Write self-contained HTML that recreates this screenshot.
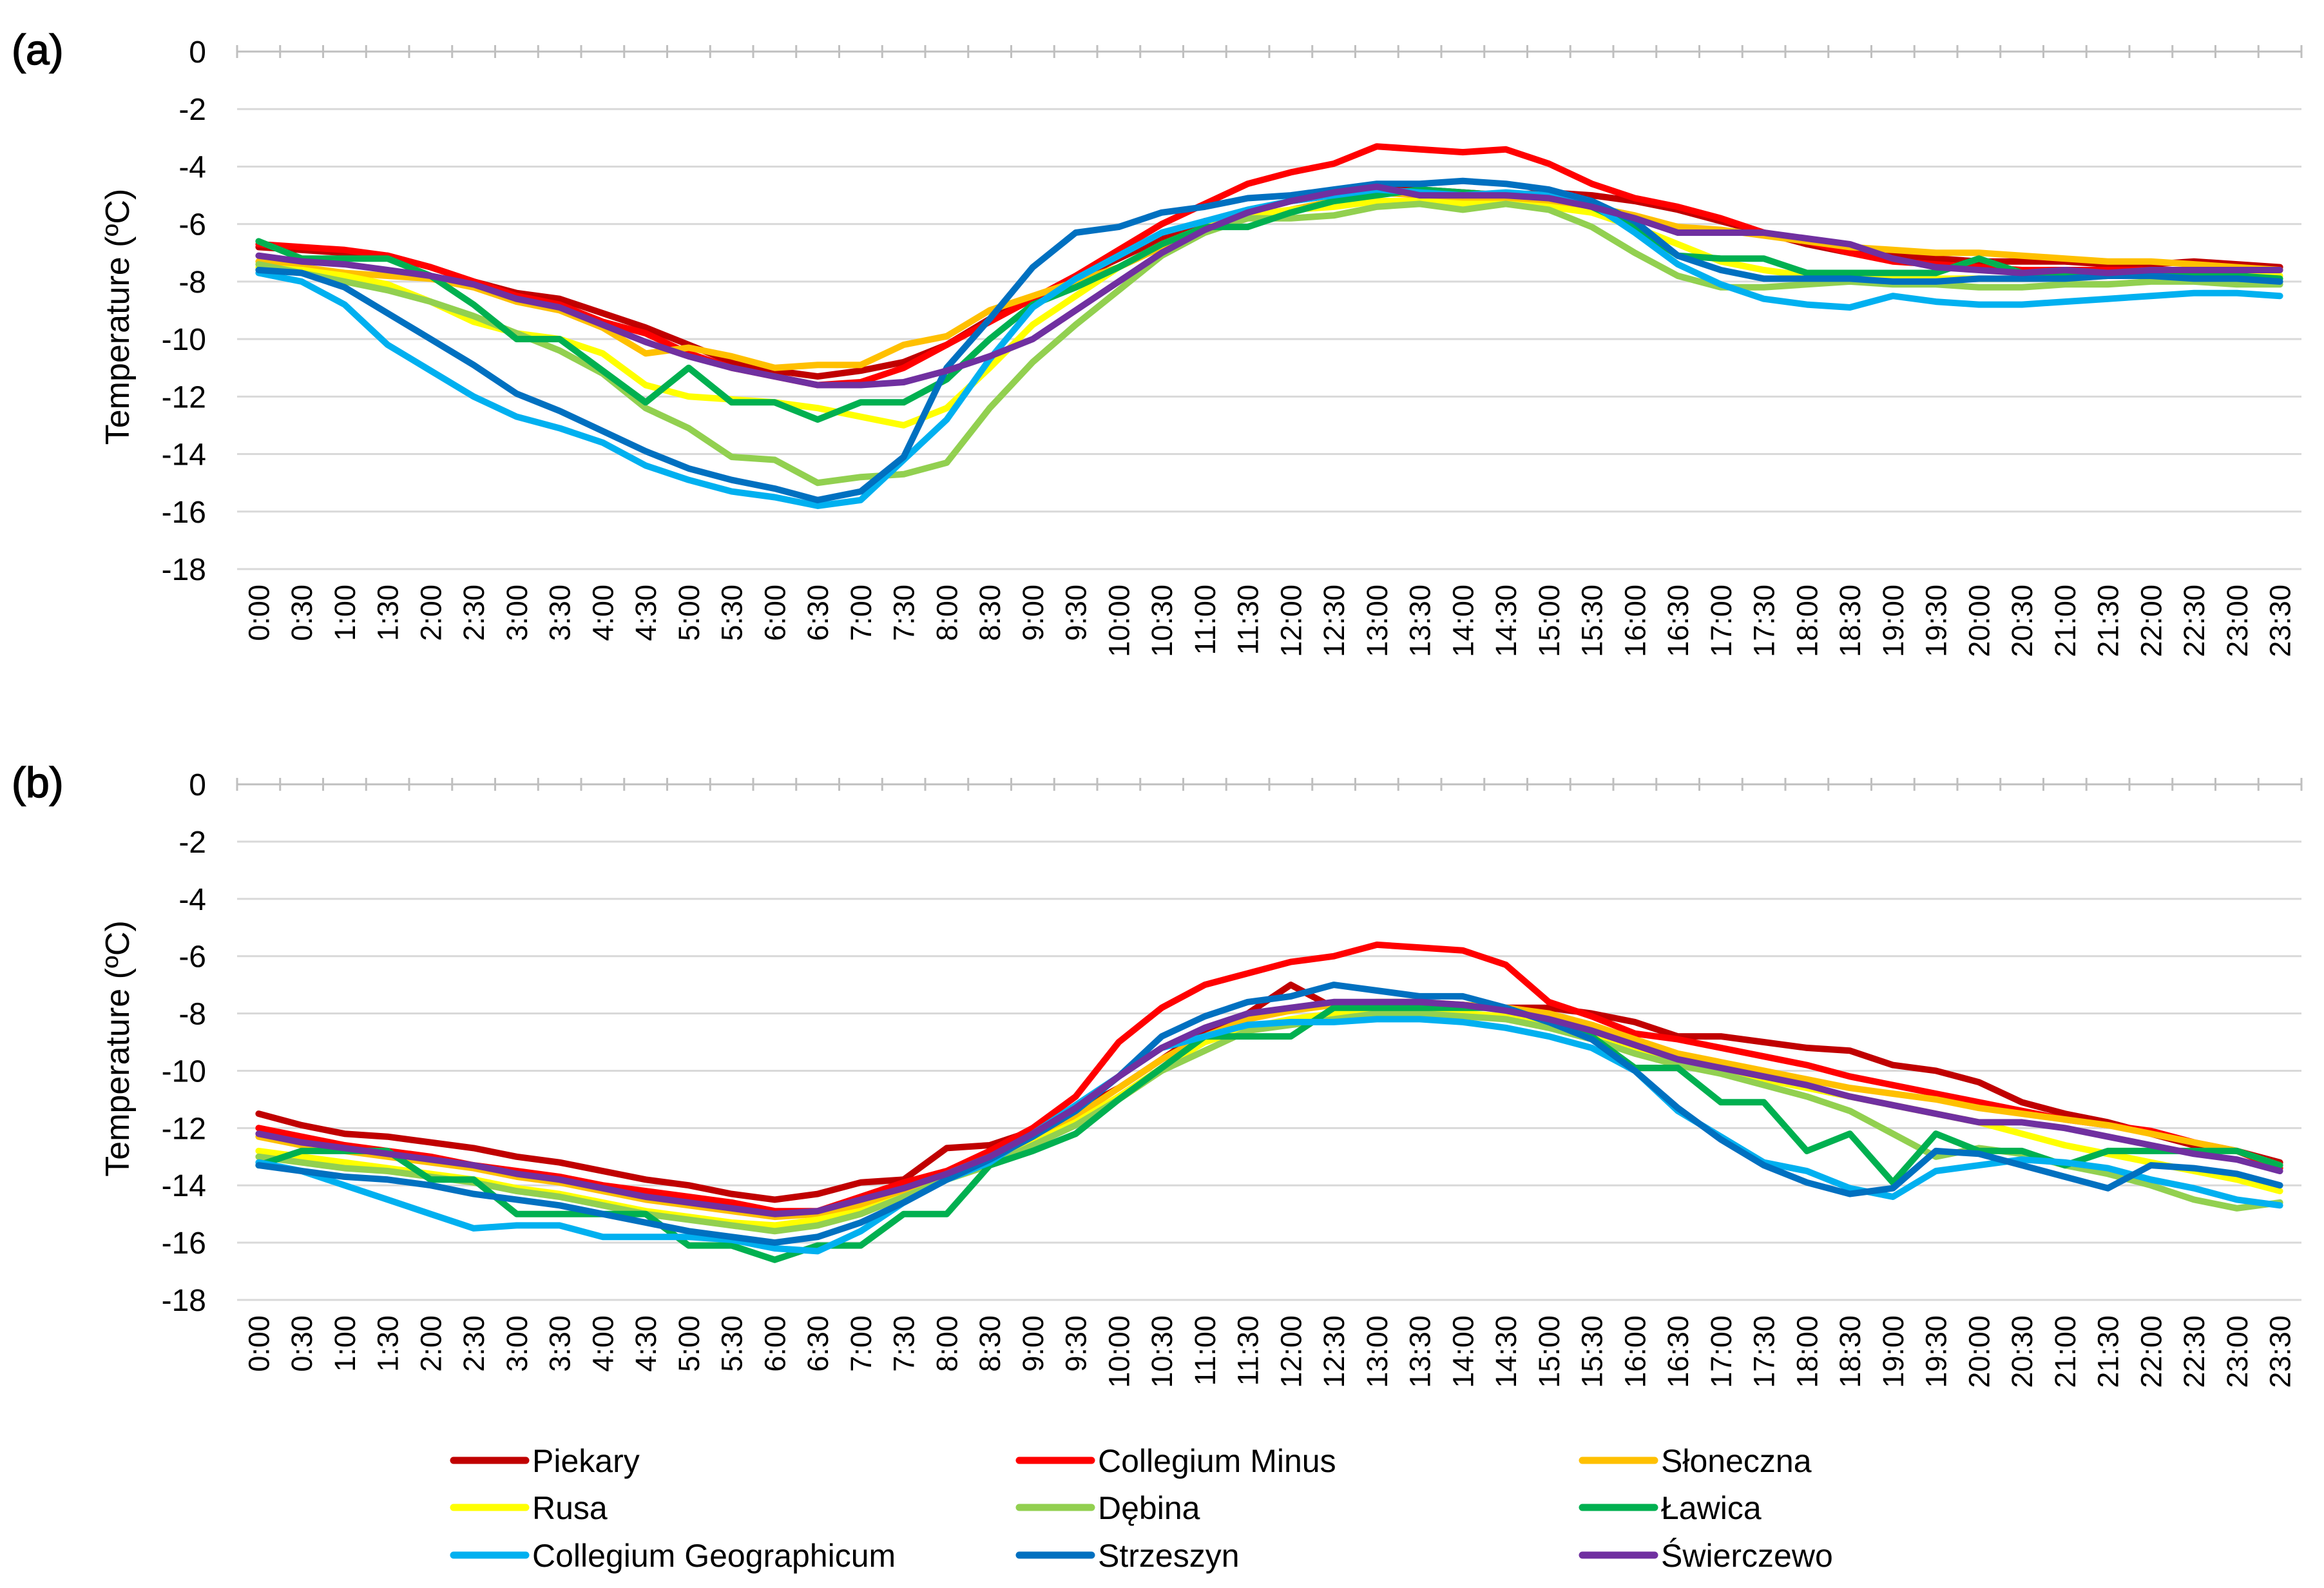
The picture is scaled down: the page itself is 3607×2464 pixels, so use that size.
<!DOCTYPE html>
<html><head><meta charset="utf-8"><style>
html,body{margin:0;padding:0;background:#fff;}
svg{display:block;font-family:"Liberation Sans",Arial,sans-serif;}
</style></head><body>
<svg id="chart" width="3607" height="2464" viewBox="0 0 3607 2464" xmlns="http://www.w3.org/2000/svg">
<rect width="3607" height="2464" fill="#fff"/>
</svg>
<script>
const categories = ["0:00","0:30","1:00","1:30","2:00","2:30","3:00","3:30","4:00","4:30","5:00","5:30","6:00","6:30","7:00","7:30","8:00","8:30","9:00","9:30","10:00","10:30","11:00","11:30","12:00","12:30","13:00","13:30","14:00","14:30","15:00","15:30","16:00","16:30","17:00","17:30","18:00","18:30","19:00","19:30","20:00","20:30","21:00","21:30","22:00","22:30","23:00","23:30"];
const yTicks = [0,-2,-4,-6,-8,-10,-12,-14,-16,-18];
const seriesNames = ["Piekary","Collegium Minus","Słoneczna","Rusa","Dębina","Ławica","Collegium Geographicum","Strzeszyn","Świerczewo"];
const seriesColors = ["#C00000","#FF0000","#FFC000","#FFFF00","#92D050","#00B050","#00B0F0","#0070C0","#7030A0"];

const aPiekary = [-6.8,-6.9,-7,-7.1,-7.5,-8,-8.4,-8.6,-9.1,-9.6,-10.2,-10.8,-11.1,-11.3,-11.1,-10.8,-10.2,-9.3,-8.6,-7.9,-7.2,-6.5,-5.9,-5.6,-5.2,-5,-4.8,-4.8,-4.9,-5,-4.9,-5,-5.2,-5.5,-5.9,-6.3,-6.7,-7,-7.1,-7.2,-7.3,-7.3,-7.3,-7.4,-7.4,-7.3,-7.4,-7.5];
const aMinus = [-6.7,-6.8,-6.9,-7.1,-7.5,-8,-8.5,-8.8,-9.4,-9.8,-10.5,-11,-11.3,-11.6,-11.5,-11,-10.2,-9.4,-8.6,-7.8,-6.9,-6,-5.3,-4.6,-4.2,-3.9,-3.3,-3.4,-3.5,-3.4,-3.9,-4.6,-5.1,-5.4,-5.8,-6.3,-6.6,-7,-7.3,-7.4,-7.5,-7.6,-7.6,-7.6,-7.6,-7.6,-7.6,-7.6];
const aSloneczna = [-7.3,-7.5,-7.7,-7.8,-7.9,-8.2,-8.7,-9,-9.6,-10.5,-10.3,-10.6,-11,-10.9,-10.9,-10.2,-9.9,-9,-8.5,-8,-7.5,-6.8,-6.2,-5.8,-5.5,-5.2,-4.9,-5,-5.1,-5.1,-5.2,-5.4,-5.7,-6.1,-6.2,-6.4,-6.6,-6.8,-6.9,-7,-7,-7.1,-7.2,-7.3,-7.3,-7.4,-7.5,-7.6];
const aRusa = [-7.5,-7.6,-7.8,-8.1,-8.7,-9.4,-9.8,-10,-10.5,-11.6,-12,-12.1,-12.2,-12.4,-12.7,-13,-12.4,-11,-9.5,-8.5,-7.5,-6.7,-6.1,-5.7,-5.5,-5.4,-5.2,-5.2,-5.3,-5.3,-5.4,-5.6,-6.1,-6.7,-7.3,-7.6,-7.8,-7.8,-7.9,-7.9,-7.9,-7.9,-7.9,-7.8,-7.8,-7.7,-7.8,-7.8];
const aDebina = [-7.4,-7.7,-8,-8.3,-8.7,-9.2,-9.8,-10.4,-11.2,-12.4,-13.1,-14.1,-14.2,-15,-14.8,-14.7,-14.3,-12.4,-10.8,-9.5,-8.3,-7.1,-6.3,-5.8,-5.8,-5.7,-5.4,-5.3,-5.5,-5.3,-5.5,-6.1,-7,-7.8,-8.2,-8.2,-8.1,-8,-8.1,-8.1,-8.2,-8.2,-8.1,-8.1,-8,-8,-8.1,-8.1];
const aLawica = [-6.6,-7.2,-7.2,-7.2,-7.8,-8.8,-10,-10,-11.1,-12.2,-11,-12.2,-12.2,-12.8,-12.2,-12.2,-11.4,-10,-8.8,-8.2,-7.5,-6.7,-6.1,-6.1,-5.6,-5.2,-5,-4.8,-4.9,-5,-5,-5.4,-6.1,-7.1,-7.2,-7.2,-7.7,-7.7,-7.7,-7.7,-7.2,-7.7,-7.8,-7.7,-7.8,-7.7,-7.8,-7.9];
const aGeo = [-7.7,-8,-8.8,-10.2,-11.1,-12,-12.7,-13.1,-13.6,-14.4,-14.9,-15.3,-15.5,-15.8,-15.6,-14.2,-12.8,-10.7,-8.9,-7.9,-7.1,-6.3,-5.9,-5.5,-5.2,-5,-4.8,-4.9,-5,-4.9,-5,-5.3,-6.3,-7.4,-8.1,-8.6,-8.8,-8.9,-8.5,-8.7,-8.8,-8.8,-8.7,-8.6,-8.5,-8.4,-8.4,-8.5];
const aStrzeszyn = [-7.6,-7.7,-8.2,-9.1,-10,-10.9,-11.9,-12.5,-13.2,-13.9,-14.5,-14.9,-15.2,-15.6,-15.3,-14.1,-11,-9.3,-7.5,-6.3,-6.1,-5.6,-5.4,-5.1,-5,-4.8,-4.6,-4.6,-4.5,-4.6,-4.8,-5.2,-5.9,-7.1,-7.6,-7.9,-7.9,-7.9,-8,-8,-7.9,-7.9,-7.9,-7.8,-7.8,-7.9,-7.9,-8];
const aSwierczewo = [-7.1,-7.3,-7.4,-7.6,-7.8,-8.1,-8.6,-8.9,-9.5,-10.1,-10.6,-11,-11.3,-11.6,-11.6,-11.5,-11.1,-10.6,-10,-9,-8,-7,-6.2,-5.6,-5.2,-4.9,-4.7,-5,-5,-5,-5.1,-5.4,-5.8,-6.3,-6.3,-6.3,-6.5,-6.7,-7.2,-7.5,-7.6,-7.7,-7.6,-7.7,-7.6,-7.6,-7.6,-7.6];

const bPiekary = [-11.5,-11.9,-12.2,-12.3,-12.5,-12.7,-13,-13.2,-13.5,-13.8,-14,-14.3,-14.5,-14.3,-13.9,-13.8,-12.7,-12.6,-12.1,-11.4,-10.6,-9.6,-8.6,-8,-7,-7.8,-7.8,-7.7,-7.7,-7.8,-7.8,-8,-8.3,-8.8,-8.8,-9,-9.2,-9.3,-9.8,-10,-10.4,-11.1,-11.5,-11.8,-12.2,-12.6,-12.8,-13.2];
const bMinus = [-12,-12.3,-12.6,-12.8,-13,-13.3,-13.5,-13.7,-14,-14.2,-14.4,-14.6,-14.9,-14.9,-14.4,-13.9,-13.5,-12.8,-12,-10.9,-9,-7.8,-7,-6.6,-6.2,-6,-5.6,-5.7,-5.8,-6.3,-7.6,-8.1,-8.7,-8.9,-9.2,-9.5,-9.8,-10.2,-10.5,-10.8,-11.1,-11.4,-11.7,-11.9,-12.1,-12.5,-12.8,-13.4];
const bSloneczna = [-12.3,-12.6,-12.8,-13,-13.2,-13.4,-13.7,-13.9,-14.2,-14.5,-14.7,-14.9,-15.1,-15,-14.7,-14.2,-13.6,-13,-12.3,-11.6,-10.6,-9.6,-8.8,-8.2,-7.9,-7.7,-7.6,-7.6,-7.7,-7.8,-8,-8.4,-8.9,-9.4,-9.7,-10,-10.3,-10.6,-10.8,-11,-11.3,-11.5,-11.7,-11.9,-12.2,-12.5,-12.8,-13.3];
const bRusa = [-12.8,-13,-13.2,-13.4,-13.6,-13.8,-14.1,-14.3,-14.6,-14.9,-15.1,-15.3,-15.4,-15.2,-14.9,-14.4,-13.8,-13.2,-12.5,-11.8,-10.9,-9.9,-9,-8.5,-8.2,-8,-7.9,-7.9,-8,-8.1,-8.3,-8.7,-9.2,-9.6,-10,-10.3,-10.6,-10.9,-11.2,-11.5,-11.8,-12.2,-12.6,-12.9,-13.2,-13.5,-13.8,-14.2];
const bDebina = [-13,-13.2,-13.4,-13.5,-13.7,-13.9,-14.2,-14.4,-14.7,-15,-15.2,-15.4,-15.6,-15.4,-15,-14.4,-13.8,-13.3,-12.6,-11.9,-11,-10,-9.3,-8.6,-8.4,-8.2,-8,-8,-8.1,-8.2,-8.5,-8.9,-9.4,-9.8,-10.1,-10.5,-10.9,-11.4,-12.2,-13,-12.7,-12.9,-13.3,-13.6,-14,-14.5,-14.8,-14.6];
const bLawica = [-13.3,-12.8,-12.8,-12.8,-13.8,-13.8,-15,-15,-15,-15,-16.1,-16.1,-16.6,-16.1,-16.1,-15,-15,-13.3,-12.8,-12.2,-11,-9.9,-8.8,-8.8,-8.8,-7.8,-7.8,-7.8,-7.8,-7.8,-8.3,-8.8,-9.9,-9.9,-11.1,-11.1,-12.8,-12.2,-13.9,-12.2,-12.8,-12.8,-13.3,-12.8,-12.8,-12.8,-12.8,-13.3];
const bGeo = [-13.2,-13.5,-14,-14.5,-15,-15.5,-15.4,-15.4,-15.8,-15.8,-15.8,-15.9,-16.2,-16.3,-15.6,-14.6,-13.8,-13.2,-12.2,-11.2,-10.2,-9.2,-8.8,-8.4,-8.3,-8.3,-8.2,-8.2,-8.3,-8.5,-8.8,-9.2,-10,-11.4,-12.3,-13.2,-13.5,-14.1,-14.4,-13.5,-13.3,-13.1,-13.2,-13.4,-13.8,-14.1,-14.5,-14.7];
const bStrzeszyn = [-13.3,-13.5,-13.7,-13.8,-14,-14.3,-14.5,-14.7,-15,-15.3,-15.6,-15.8,-16,-15.8,-15.3,-14.6,-13.8,-13.1,-12.3,-11.4,-10.2,-8.8,-8.1,-7.6,-7.4,-7,-7.2,-7.4,-7.4,-7.8,-8.3,-8.9,-10,-11.3,-12.4,-13.3,-13.9,-14.3,-14.1,-12.8,-12.9,-13.3,-13.7,-14.1,-13.3,-13.4,-13.6,-14];
const bSwierczewo = [-12.2,-12.5,-12.7,-12.9,-13.1,-13.3,-13.6,-13.8,-14.1,-14.4,-14.6,-14.8,-15,-14.9,-14.5,-14.1,-13.6,-13,-12.2,-11.3,-10.2,-9.2,-8.5,-8,-7.8,-7.6,-7.6,-7.6,-7.7,-7.9,-8.2,-8.6,-9.1,-9.6,-9.9,-10.2,-10.5,-10.9,-11.2,-11.5,-11.8,-11.8,-12,-12.3,-12.6,-12.9,-13.1,-13.5];

const seriesA = [aPiekary,aMinus,aSloneczna,aRusa,aDebina,aLawica,aGeo,aStrzeszyn,aSwierczewo];
const seriesB = [bPiekary,bMinus,bSloneczna,bRusa,bDebina,bLawica,bGeo,bStrzeszyn,bSwierczewo];

const NS = "http://www.w3.org/2000/svg";
const svg = document.getElementById('chart');
function mk(tag, attrs, parent){
  const e = document.createElementNS(NS, tag);
  for (const k in attrs) e.setAttribute(k, attrs[k]);
  (parent||svg).appendChild(e);
  return e;
}
const xLeft = 368, xRight = 3572;
const step = (xRight - xLeft) / categories.length;
function xPos(i){ return xLeft + step*(i+0.5); }

function drawPanel(label, top, bottom, series, key){
  const g = mk('g', {});
  
  
  const yPos = v => top + (0 - v) / 18 * (bottom - top);
  const pl = mk('text', {x: 18, y: top + 20, 'font-size': 66, fill: '#000', stroke: '#000', 'stroke-width': 1.5}, g);
  pl.textContent = label;
  
  
  yTicks.forEach(t => {
    const y = yPos(t);
    if (t !== 0) {
      const gl = mk('line', {x1: xLeft, x2: xRight, y1: y, y2: y, stroke: '#d9d9d9', 'stroke-width': 3}, g);
      
      
    }
    const tl = mk('text', {x: 320, y: y + 17, 'font-size': 48, 'text-anchor': 'end', fill: '#000'}, g);
    tl.textContent = t;
    
    
  });
  const y0 = yPos(0);
  const ax = mk('line', {x1: xLeft, x2: xRight, y1: y0, y2: y0, stroke: '#bfbfbf', 'stroke-width': 3}, g);
  
  
  for (let i = 0; i <= categories.length; i++) {
    const x = xLeft + step*i;
    const tk = mk('line', {x1: x, x2: x, y1: y0 - 10, y2: y0 + 10, stroke: '#bfbfbf', 'stroke-width': 3}, g);
    
    
  }
  categories.forEach((c, i) => {
    const x = xPos(i) + 16, y = bottom + 24;
    const t = mk('text', {x: x, y: y, 'font-size': 45, 'text-anchor': 'end', fill: '#000', transform: `rotate(-90 ${x} ${y})`}, g);
    t.textContent = c;
    
    
  });
  const cy = (top + bottom) / 2 + 10;
  const yt = mk('text', {x: 200, y: cy, 'font-size': 52, 'text-anchor': 'middle', fill: '#000', transform: `rotate(-90 200 ${cy})`}, g);
  yt.textContent = 'Temperature (ºC)';
  
  
  series.forEach((vals, s) => {
    const pts = vals.map((v, i) => xPos(i).toFixed(1) + ',' + yPos(v).toFixed(1)).join(' ');
    const p = mk('polyline', {points: pts, fill: 'none', stroke: seriesColors[s], 'stroke-width': 10, 'stroke-linejoin': 'round', 'stroke-linecap': 'round'}, g);
    
    
  });
}
drawPanel('(a)', 80, 883, seriesA, 'a');
drawPanel('(b)', 1217, 2017, seriesB, 'b');

const legCols = [704, 1582, 2456];
const legRows = [2266, 2339, 2413];
const lg = mk('g', {});


seriesNames.forEach((n, i) => {
  const x = legCols[i % 3], y = legRows[Math.floor(i / 3)];
  const e = mk('g', {}, lg);
  
  
  mk('line', {x1: x, x2: x + 112, y1: y, y2: y, stroke: seriesColors[i], 'stroke-width': 11, 'stroke-linecap': 'round'}, e);
  const t = mk('text', {x: x + 122, y: y + 18, 'font-size': 50, fill: '#000'}, e);
  t.textContent = n;
});
</script>
</body></html>
